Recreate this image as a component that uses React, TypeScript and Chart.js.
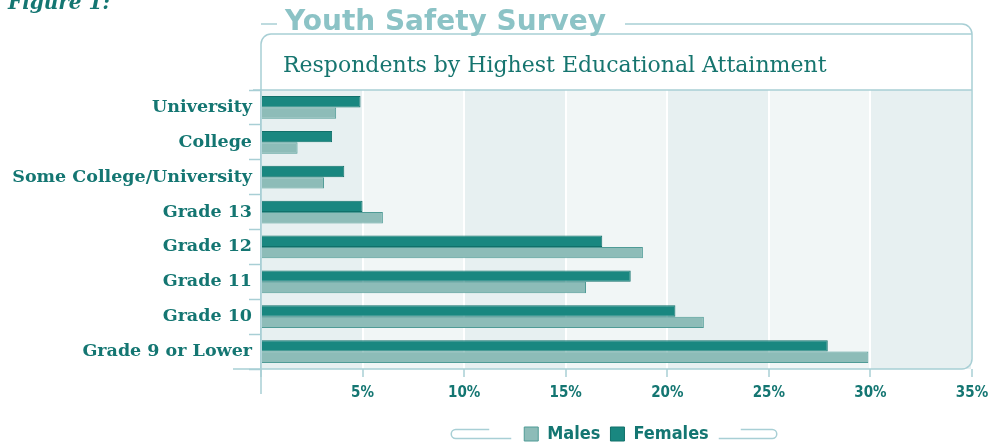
import React, { useEffect, useRef } from 'react';
import { Chart, registerables } from 'chart.js';

Chart.register(...registerables);

const categories = [
  'University',
  'College',
  'Some College/University',
  'Grade 13',
  'Grade 12',
  'Grade 11',
  'Grade 10',
  'Grade 9 or Lower',
];
const femalesValues = [4.9, 3.5, 4.1, 5.0, 16.8, 18.2, 20.4, 27.9];
const malesValues = [3.7, 1.8, 3.1, 6.0, 18.8, 16.0, 21.8, 29.9];
const seriesNames = ['Females', 'Males'];
const xMax = 35;
const xStep = 5;
const chartTitle = 'Youth Safety Survey';
const chartSubtitle = 'Respondents by Highest Educational Attainment';
const figureLabel = 'Figure 1:';

const TEAL = '#147672';
const LINE = '#a8cfd5';
const NARROW = '"DejaVu Sans Condensed", "Liberation Sans Narrow", "Roboto", sans-serif';

const decorPlugin = {
  id: 'decor',
  beforeDraw(chart: any) {
    const { ctx, chartArea: a, scales } = chart;
    const x = scales.x;
    ctx.save();
    for (let i = 0; i * xStep < xMax; i++) {
      const l = x.getPixelForValue(i * xStep);
      const r = x.getPixelForValue((i + 1) * xStep);
      ctx.fillStyle = i % 2 === 0 ? '#e7f0f1' : '#f1f6f6';
      ctx.fillRect(l, a.top, r - l, a.bottom - a.top);
    }
    ctx.restore();
  },
  afterDraw(chart: any) {
    const { ctx, chartArea: a } = chart;
    ctx.save();
    ctx.strokeStyle = LINE;
    ctx.lineWidth = 1.5;
    const line = (x1: number, y1: number, x2: number, y2: number) => {
      ctx.beginPath();
      ctx.moveTo(x1, y1);
      ctx.lineTo(x2, y2);
      ctx.stroke();
    };
    // left dash before the title
    line(a.left, 24, 277, 24);
    // upper line, right border, bottom border
    ctx.beginPath();
    ctx.moveTo(625, 24);
    ctx.lineTo(a.right - 10, 24);
    ctx.arcTo(a.right, 24, a.right, 34, 10);
    ctx.lineTo(a.right, a.bottom - 10);
    ctx.arcTo(a.right, a.bottom, a.right - 10, a.bottom, 10);
    ctx.lineTo(233, a.bottom);
    ctx.stroke();
    // subtitle box top with rounded left corner
    ctx.beginPath();
    ctx.moveTo(a.left, a.top);
    ctx.lineTo(a.left, 44);
    ctx.arcTo(a.left, 34, a.left + 10, 34, 10);
    ctx.lineTo(a.right, 34);
    ctx.stroke();
    // separator under subtitle
    line(253, a.top, a.right, a.top);
    // y axis line extension
    line(a.left, a.top, a.left, 394);

    // legend brackets
    const hb = chart.legend && chart.legend.legendHitBoxes;
    if (hb && hb.length) {
      const first = hb[0];
      const last = hb[hb.length - 1];
      const yc = first.top + first.height / 2;
      const r = 4.5;
      const yt = yc - r;
      const yb = yc + r;
      const rEnd = first.left - 13;
      const x0 = rEnd - 60;
      ctx.beginPath();
      ctx.moveTo(x0 + 38, yt);
      ctx.lineTo(x0 + r, yt);
      ctx.arc(x0 + r, yc, r, -Math.PI / 2, Math.PI / 2, true);
      ctx.lineTo(rEnd, yb);
      ctx.stroke();
      const lEnd = last.left + last.width + 10;
      const x1 = lEnd + 58;
      ctx.beginPath();
      ctx.moveTo(lEnd, yb);
      ctx.lineTo(x1 - r, yb);
      ctx.arc(x1 - r, yc, r, Math.PI / 2, -Math.PI / 2, true);
      ctx.lineTo(x1 - 36, yt);
      ctx.stroke();
    }

    // texts
    ctx.textBaseline = 'alphabetic';
    ctx.textAlign = 'left';
    ctx.fillStyle = TEAL;
    ctx.font = 'italic bold 20px "DejaVu Serif", serif';
    ctx.fillText(figureLabel, 8, 9);
    ctx.fillStyle = '#8cc3c6';
    ctx.font = 'bold 28px "DejaVu Sans", sans-serif';
    ctx.fillText(chartTitle, 285, 30);
    ctx.fillStyle = '#16756f';
    ctx.font = '22px "DejaVu Serif", serif';
    ctx.fillText(chartSubtitle, 283, 72);
    ctx.restore();
  },
};

export default function App() {
  const ref = useRef<HTMLCanvasElement | null>(null);

  useEffect(() => {
    if (!ref.current) return;
    const chart = new Chart(ref.current, {
      type: 'bar',
      data: {
        labels: categories,
        datasets: [
          {
            label: seriesNames[0],
            data: femalesValues,
            backgroundColor: '#198780',
            borderColor: '#11706a',
            borderWidth: 1,
            barPercentage: 1,
            categoryPercentage: 0.65,
          },
          {
            label: seriesNames[1],
            data: malesValues,
            backgroundColor: '#8dbcb8',
            borderColor: '#4f9b96',
            borderWidth: 1,
            barPercentage: 1,
            categoryPercentage: 0.65,
          },
        ],
      },
      options: {
        indexAxis: 'y',
        responsive: false,
        animation: false,
        devicePixelRatio: 1,
        layout: { padding: { top: 90, right: 19, left: 0, bottom: -8 } },
        scales: {
          x: {
            min: 0,
            max: xMax,
            afterFit: (s: any) => {
              s.height = 46;
              s.paddingLeft = 0;
              s.paddingRight = 0;
            },
            ticks: {
              stepSize: xStep,
              padding: 7,
              color: TEAL,
              font: { family: NARROW, weight: 'bold', size: 15 },
              callback: (v: any) => (Number(v) === 0 ? '' : v + '%'),
            },
            grid: {
              color: '#ffffff',
              lineWidth: 2,
              tickColor: LINE,
              tickLength: 8,
              tickWidth: 1.5,
            },
            border: { display: false },
          },
          y: {
            afterFit: (s: any) => {
              s.width = 261;
            },
            ticks: {
              padding: -3,
              color: TEAL,
              font: { family: '"DejaVu Serif", serif', weight: 'bold', size: 17.5 },
            },
            grid: {
              drawOnChartArea: false,
              tickColor: LINE,
              tickLength: 12,
              tickWidth: 1.5,
            },
            border: { display: true, color: LINE, width: 1.5 },
          },
        },
        plugins: {
          title: { display: false },
          tooltip: { enabled: false },
          legend: {
            position: 'bottom',
            fullSize: false,
            labels: {
              boxWidth: 14,
              boxHeight: 14,
              padding: 10,
              color: TEAL,
              font: { family: NARROW, weight: 'bold', size: 18 },
              sort: (a: any, b: any) => b.datasetIndex - a.datasetIndex,
            },
          },
        },
      } as any,
      plugins: [decorPlugin],
    });
    return () => chart.destroy();
  }, []);

  return (
    <div style={{ position: 'absolute', left: 0, top: 0, width: 991, height: 445, background: '#ffffff' }}>
      <canvas ref={ref} width={991} height={445} style={{ display: 'block', width: 991, height: 445 }} />
    </div>
  );
}
